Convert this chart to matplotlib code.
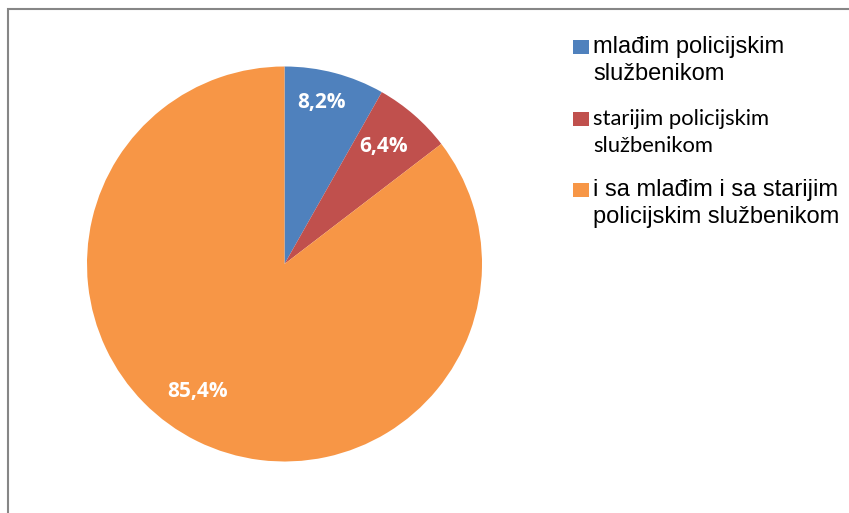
import matplotlib
matplotlib.use("Agg")
import numpy as np
import matplotlib.pyplot as plt
from matplotlib.patches import Rectangle

# data
kategorije = ["mlađim policijskim\nslužbenikom",
              "starijim policijskim\nslužbenikom",
              "i sa mlađim i sa starijim\npolicijskim službenikom"]
procenti = [8.2, 6.4, 85.4]
boje = ["#4F81BD", "#C0504D", "#F79646"]
fontovi = ["Liberation Sans", "Lato", "Liberation Sans"]

W, H = 849, 513
fig = plt.figure(figsize=(W / 100, H / 100), dpi=100)

# okvir grafikona (izlazi van slike desno i dole)
fig.patches.append(Rectangle((8 / W, -0.1), 1.2, 1 - 9 / H + 0.1,
                             transform=fig.transFigure, fill=False,
                             edgecolor="#868686", linewidth=1.5))

# pita
cx, cy, r = 284.5, 264, 197.5
ax = fig.add_axes([(cx - r) / W, (H - cy - r) / H, 2 * r / W, 2 * r / H])
wedges, _, autotexts = ax.pie(procenti, colors=boje, startangle=90,
                              counterclock=False, radius=1,
                              autopct=lambda p: ("%.1f%%" % p).replace(".", ","),
                              pctdistance=0.8,
                              wedgeprops=dict(linewidth=0))
# Excel-ovo postavljanje oznaka: malo drugacija udaljenost/ugao
udaljenost = [0.84, 0.78, 0.78]
pomak_ugla = [2, 1, -8]
for w, t, d, da in zip(wedges, autotexts, udaljenost, pomak_ugla):
    ug = np.deg2rad((w.theta1 + w.theta2) / 2 + da)
    t.set_position((d * np.cos(ug), d * np.sin(ug)))
    t.set_color("white")
    t.set_fontfamily("Open Sans")
    t.set_fontweight("bold")
    t.set_fontsize(15)
ax.set_xlim(-1, 1)
ax.set_ylim(-1, 1)
ax.set_aspect("equal")

# legenda
legend_y = [53, 125, 196]
for lab, c, f, yb in zip(kategorije, boje, fontovi, legend_y):
    fig.patches.append(Rectangle((573 / W, (H - yb - 1) / H), 16 / W, 14 / H,
                                 transform=fig.transFigure, facecolor=c,
                                 edgecolor="none"))
    vel = 15.8 if f == "Lato" else 17
    red1, red2 = lab.split("\n")
    fig.text(593 / W, (H - yb) / H, red1, family=f, fontsize=vel,
             color="black", va="baseline")
    fig.text(593 / W, (H - yb - 27) / H, red2, family=f, fontsize=vel,
             color="black", va="baseline")

fig.savefig("out.png", dpi=100)
